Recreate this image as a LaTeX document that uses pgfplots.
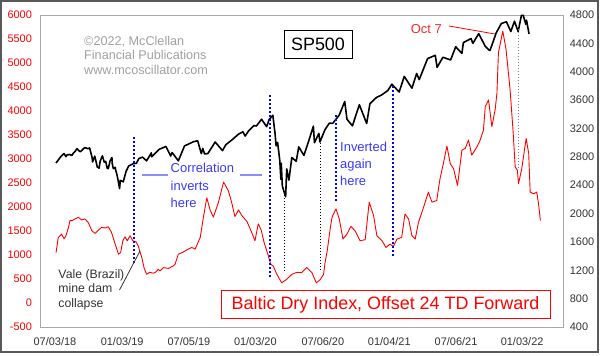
\documentclass[border=0pt]{standalone}
\usepackage{fontspec}
\setmainfont{Liberation Sans}
\usepackage{pgfplots}
\pgfplotsset{compat=1.18}
\usepackage{pgfplotstable}
\definecolor{framegray}{HTML}{A8A8A8}
\definecolor{wmgray}{HTML}{A0A0A0}
\definecolor{txtblue}{HTML}{3838FF}
\definecolor{lineblue}{HTML}{8C8CFF}
\definecolor{labgray}{HTML}{333333}

\pgfplotstableread{
day sp
3 2713
17 2809
25 2846
30 2803
33 2827
41 2833
46 2818
52 2862
55 2875
60 2914
69 2872
73 2887
76 2905
82 2931
90 2914
95 2925
102 2785
103 2728
109 2809
111 2768
116 2656
121 2641
124 2740
130 2814
135 2726
139 2736
143 2641
146 2633
151 2744
156 2790
157 2700
160 2633
165 2651
167 2600
170 2546
173 2467
177 2351
179 2467
187 2448
195 2596
202 2671
215 2704
223 2708
230 2776
240 2796
251 2743
264 2855
265 2801
286 2907
304 2946
317 2812
321 2860
338 2744
355 2954
380 3014
391 3026
401 2845
405 2919
410 2840
419 2847
439 3009
459 2887
468 2970
485 3039
503 3120
515 3153
521 3093
531 3169
545 3240
552 3235
566 3330
580 3225
587 3328
597 3386
603 3128
606 2954
610 3003
616 2747
619 2481
620 2711
623 2386
632 2237
635 2630
641 2471
649 2790
661 2737
668 2940
682 2820
696 3036
708 3232
711 2999
723 3131
726 3009
740 3185
752 3276
761 3271
779 3390
794 3580
800 3331
815 3237
834 3535
854 3270
863 3550
881 3638
894 3669
912 3735
923 3825
943 3714
957 3934
978 3768
991 3975
998 3889
1021 4185
1042 4232
1047 4063
1063 4204
1084 4166
1098 4352
1115 4258
1119 4411
1140 4468
1145 4400
1161 4537
1179 4358
1189 4308
1192 4300
1209 4549
1223 4680
1237 4705
1249 4567
1259 4712
1269 4568
1278 4793
1283 4796
1290 4670
1292 4726
1299 4532
}\spdata

\pgfplotstableread{
day bdi
3 1050
9 1366
14 1400
18 1437
25 1338
30 1400
37 1575
41 1716
47 1716
55 1751
64 1785
73 1730
82 1751
91 1680
101 1506
110 1450
119 1521
128 1575
137 1563
146 1590
155 1470
165 1227
174 1017
180 1052
186 1297
192 1380
198 1297
206 1401
213 1297
222 1276
228 1192
238 946
244 737
251 598
260 640
270 619
277 650
283 702
288 667
297 737
311 720
324 772
329 808
338 1017
351 1060
365 1122
375 1157
384 1122
398 1366
407 1800
416 2190
425 1940
434 1790
448 2100
462 2519
475 2340
484 2100
493 1800
503 1940
512 1821
526 1700
539 1470
548 1297
557 1650
565 1520
573 1262
584 1000
591 808
598 772
608 598
621 422
635 493
649 598
663 640
676 632
690 740
704 632
716 420
726 480
736 598
740 842
746 1087
754 1542
759 1785
770 1961
779 1751
789 1332
800 1437
811 1597
822 1506
836 1297
850 1320
861 2100
873 1821
882 1401
896 1297
907 1157
918 1227
927 1177
937 1332
950 1366
959 1855
969 1751
978 1401
987 1332
996 1680
1010 1995
1023 2310
1033 2100
1046 2135
1055 2590
1064 2900
1074 3270
1083 2904
1092 2800
1103 2450
1115 3184
1124 3220
1133 3393
1142 3079
1156 3250
1165 3393
1174 3603
1179 4093
1188 4232
1197 3672
1206 4023
1211 4373
1215 5212
1227 5665
1236 5281
1247 4442
1255 3600
1261 2834
1267 2764
1270 2485
1279 2800
1291 3429
1298 3115
1302 2310
1311 2275
1320 2310
1325 2065
1330 1716
}\bdidata

\begin{document}
\begin{tikzpicture}
\pgfplotsset{
  common/.style={
    scale only axis, width=523bp, height=312bp,
    at={(0,0)}, anchor=south west,
    xmin=-41, xmax=1392,
    /pgf/number format/assume math mode=true,
    /pgf/number format/1000 sep={},
    major tick length=0pt, minor tick length=0pt,
    clip=false,
  }
}
\begin{axis}[common,
  ymin=-500, ymax=6000, ytick={-500,0,...,6000},
  yticklabel style={text=red, font=\fontsize{11}{13}\selectfont, xshift=-4.6bp},
  xtick={0,184,367,549,734,916,1099,1280},
  xticklabels={07/03/18,01/03/19,07/05/19,01/03/20,07/06/20,01/04/21,07/06/21,01/03/22},
  xticklabel style={text=labgray, font=\fontsize{11}{13}\selectfont, yshift=-7bp},
  axis line style={draw=framegray, line width=1bp},
]
\addplot[red, line width=0.9bp, line join=round] table[x=day, y=bdi]{\bdidata};
\end{axis}
\begin{axis}[common,
  ymin=400, ymax=4800, ytick={400,800,...,4800},
  axis y line*=right, axis x line=none,
  axis line style={draw=framegray, line width=1bp},
  yticklabel style={text=labgray, font=\fontsize{11}{13}\selectfont, xshift=3.3bp},
]
\addplot[black, line width=1.6bp, line join=round] table[x=day, y=sp]{\spdata};
\end{axis}

\begin{scope}[shift={(-40bp,327bp)}, x=1bp, y=-1bp]
  % outer frame
  \draw[gray!70!black, line width=1.2bp] (1,1) rectangle (598,352);
  % blue dotted verticals
  \draw[blue, line width=2bp, dash pattern=on 2bp off 2bp] (134,137) -- (134,264);
  \draw[blue, line width=2bp, dash pattern=on 2bp off 2bp] (269.5,95) -- (269.5,278);
  \draw[blue, line width=2bp, dash pattern=on 2bp off 2bp] (336.3,115) -- (336.3,203);
  \draw[blue, line width=2bp, dash pattern=on 2bp off 2bp] (393.3,86) -- (393.3,257);
  % black dotted verticals
  \draw[black, line width=0.8bp, dash pattern=on 1bp off 2bp] (284.7,195) -- (284.7,271);
  \draw[black, line width=0.8bp, dash pattern=on 1bp off 2bp] (320.5,140) -- (320.5,270);
  \draw[gray, line width=1bp, dash pattern=on 1bp off 2bp] (518,26) -- (518,168);
  % light blue bars
  \draw[lineblue, line width=2bp] (142,175) -- (168,175);
  \draw[lineblue, line width=2bp] (240,175) -- (262,175);
  % watermark
  \begin{scope}[every node/.style={anchor=base west, inner sep=0pt, text=wmgray, font=\fontsize{12.7}{15}\selectfont}]
    \node at (84,45) {©2022, McClellan};
    \node at (84,59) {Financial Publications};
    \node at (84,74) {www.mcoscillator.com};
  \end{scope}
  % Correlation inverts here
  \begin{scope}[every node/.style={anchor=base west, inner sep=0pt, text=txtblue, font=\fontsize{13}{15}\selectfont}]
    \node at (170.5,172.5) {Correlation};
    \node at (170.5,190) {inverts};
    \node at (170.5,207) {here};
    \node at (340,151.5) {Inverted};
    \node at (340,168.5) {again};
    \node at (340,185.5) {here};
  \end{scope}
  % Vale
  \begin{scope}[every node/.style={anchor=base west, inner sep=0pt, text=labgray, font=\fontsize{12.3}{15}\selectfont}]
    \node at (58.3,278) {Vale (Brazil)};
    \node at (58.3,292.5) {mine dam};
    \node at (58.3,307) {collapse};
  \end{scope}
  \draw[labgray, line width=0.8bp] (119.5,290) -- (140,251);
  % Oct 7
  \node[anchor=base west, inner sep=0pt, text=red!85!white, font=\fontsize{13}{15}\selectfont] at (410.7,33.5) {Oct 7};
  \draw[red, line width=0.8bp] (449,26) -- (495,34);
  % SP500 box
  \draw[black, line width=1bp, fill=white] (284,30) rectangle (352,58);
  \node[inner sep=0pt, font=\fontsize{18}{20}\selectfont] at (318,44.5) {SP500};
  % BDI box
  \draw[red, line width=1bp, fill=white] (221,290) rectangle (550,318);
  \node[inner sep=0pt, text=red, font=\fontsize{18}{20}\selectfont] at (385.5,304.5) {Baltic Dry Index, Offset 24 TD Forward};
  \pgfresetboundingbox
  \path[use as bounding box] (0,0) rectangle (600,355);
\end{scope}
\end{tikzpicture}
\end{document}
